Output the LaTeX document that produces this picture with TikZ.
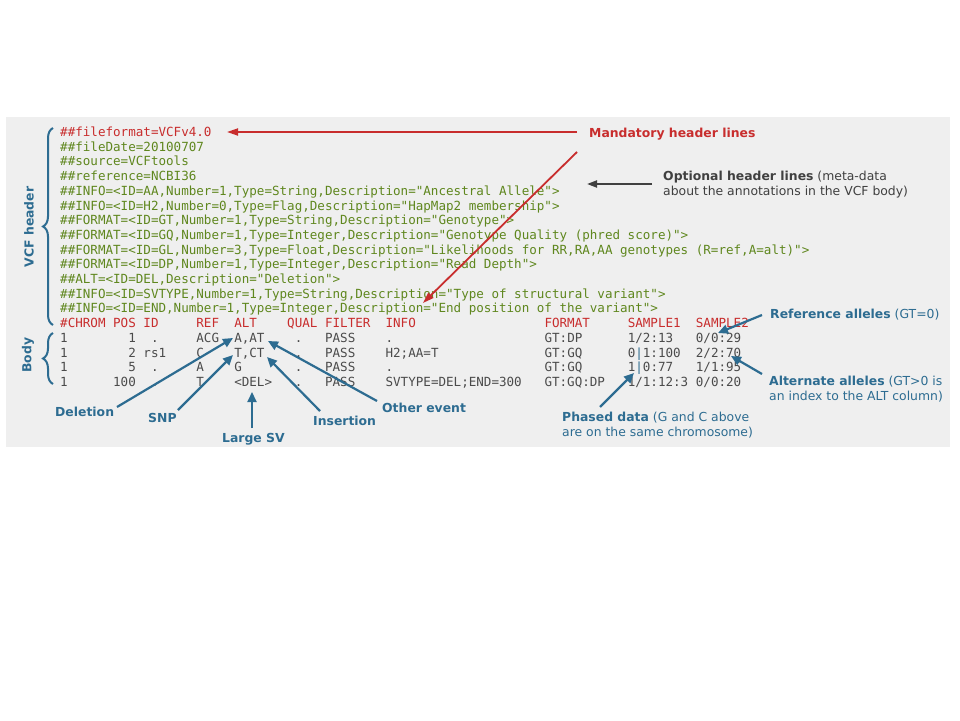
\documentclass[tikz,border=0pt]{standalone}
\usepackage{fontspec}
\setmonofont{DejaVu Sans Mono}[WordSpace={1,0,0},PunctuationSpace=WordSpace]
\newfontfamily\labfont{DejaVu Sans}
\usetikzlibrary{arrows.meta,decorations.pathreplacing}
\definecolor{vred}{RGB}{200,45,45}
\definecolor{vgreen}{RGB}{95,135,30}
\definecolor{vbody}{RGB}{75,75,75}
\definecolor{vblue}{RGB}{45,108,145}
\definecolor{vdark}{RGB}{64,64,64}
\definecolor{vbg}{RGB}{239,239,239}
\newlength\cw \setlength\cw{7.568pt}
\newcommand\sk[1]{\hspace*{#1\cw}}
\newcommand\ph{\textcolor{vblue}{|}}
\frenchspacing
\tikzset{
  code/.style={anchor=base west,inner sep=0pt,font=\ttfamily\fontsize{12.57}{14}\selectfont},
  hdr/.style={code,text=vgreen},
  man/.style={code,text=vred},
  bod/.style={code,text=vbody},
  lab/.style={anchor=base west,inner sep=0pt,font=\labfont\fontsize{12.4}{15}\selectfont},
  blab/.style={lab,text=vblue},
  rlab/.style={lab,text=vred},
  glab/.style={lab,text=vdark},
  barrow/.style={draw=vblue,line width=2.2pt,-{Triangle[length=10pt,width=9pt]}},
  rarrow/.style={draw=vred,line width=1.8pt,-{Triangle[length=11pt,width=7pt]}},
  garrow/.style={draw=vdark,line width=2pt,-{Triangle[length=10pt,width=7pt]}},
  vbrace/.style={draw=vblue,line width=2pt,decorate,decoration={brace,amplitude=10pt}},
  sidelab/.style={blab,anchor=center,rotate=90,font=\labfont\bfseries\fontsize{12.4}{15}\selectfont}
}
\begin{document}
\begin{tikzpicture}[x=1pt,y=-1pt]
\useasboundingbox (0,0) rectangle (960,720);
\fill[white] (0,0) rectangle (960,720);
\fill[vbg] (6,117) rectangle (950,447);

% header lines
\node[man] (h0) at (60,136.5) {\#\#fileformat=VCFv4.0};
\node[hdr] (h1) at (60,151.2) {\#\#fileDate=20100707};
\node[hdr] (h2) at (60,165.9) {\#\#source=VCFtools};
\node[hdr] (h3) at (60,180.6) {\#\#reference=NCBI36};
\node[hdr] (h4) at (60,195.3) {\#\#INFO=<ID=AA,Number=1,Type=String,Description="Ancestral\sk{1}Allele">};
\node[hdr] (h5) at (60,210.0) {\#\#INFO=<ID=H2,Number=0,Type=Flag,Description="HapMap2\sk{1}membership">};
\node[hdr] (h6) at (60,224.7) {\#\#FORMAT=<ID=GT,Number=1,Type=String,Description="Genotype">};
\node[hdr] (h7) at (60,239.4) {\#\#FORMAT=<ID=GQ,Number=1,Type=Integer,Description="Genotype\sk{1}Quality\sk{1}(phred\sk{1}score)">};
\node[hdr] (h8) at (60,254.1) {\#\#FORMAT=<ID=GL,Number=3,Type=Float,Description="Likelihoods\sk{1}for\sk{1}RR,RA,AA\sk{1}genotypes\sk{1}(R=ref,A=alt)">};
\node[hdr] (h9) at (60,268.8) {\#\#FORMAT=<ID=DP,Number=1,Type=Integer,Description="Read\sk{1}Depth">};
\node[hdr] (h10) at (60,283.5) {\#\#ALT=<ID=DEL,Description="Deletion">};
\node[hdr] (h11) at (60,298.2) {\#\#INFO=<ID=SVTYPE,Number=1,Type=String,Description="Type\sk{1}of\sk{1}structural\sk{1}variant">};
\node[hdr] (h12) at (60,312.9) {\#\#INFO=<ID=END,Number=1,Type=Integer,Description="End\sk{1}position\sk{1}of\sk{1}the\sk{1}variant">};
\node[man] (h13) at (60,327.6) {\#CHROM\sk{1}POS\sk{1}ID\sk{5}REF\sk{2}ALT\sk{4}QUAL\sk{1}FILTER\sk{2}INFO\sk{17}FORMAT\sk{5}SAMPLE1\sk{2}SAMPLE2};

% body lines
\node[bod] (b1) at (60,342.3) {1\sk{8}1\sk{2}.\sk{5}ACG\sk{2}A,AT\sk{4}.\sk{3}PASS\sk{4}.\sk{20}GT:DP\sk{6}1/2:13\sk{3}0/0:29};
\node[bod] (b2) at (60,357.0) {1\sk{8}2\sk{1}rs1\sk{4}C\sk{4}T,CT\sk{4}.\sk{3}PASS\sk{4}H2;AA=T\sk{14}GT:GQ\sk{6}0\ph 1:100\sk{2}2/2:70};
\node[bod] (b3) at (60,371.7) {1\sk{8}5\sk{2}.\sk{5}A\sk{4}G\sk{7}.\sk{3}PASS\sk{4}.\sk{20}GT:GQ\sk{6}1\ph 0:77\sk{3}1/1:95};
\node[bod] (b4) at (60,386.4) {1\sk{6}100\sk{2}.\sk{5}T\sk{4}<DEL>\sk{3}.\sk{3}PASS\sk{4}SVTYPE=DEL;END=300\sk{3}GT:GQ:DP\sk{3}1/1:12:3\sk{1}0/0:20};

% braces and side labels
\draw[vbrace] (53,325) -- (53,128);
\draw[vbrace] (53,384) -- (53,333);
\node[sidelab] (vcfh) at (29,227) {VCF header};
\node[sidelab] (bodyl) at (28,355) {Body};

% labels
\node[rlab] (mand) at (589,137.5) {\bfseries Mandatory header lines};
\node[glab] (optA) at (663,180.5) {\textbf{Optional header lines} (meta-data};
\node[glab] (optB) at (663,195.5) {about the annotations in the VCF body)};
\node[blab] (del) at (55,416) {\bfseries Deletion};
\node[blab] (snp) at (148,422.5) {\bfseries SNP};
\node[blab] (lsv) at (222,442.5) {\bfseries Large SV};
\node[blab] (ins) at (313,425) {\bfseries Insertion};
\node[blab] (oth) at (382,412) {\bfseries Other event};
\node[blab] (phA) at (562,421.5) {\textbf{Phased data} (G and C above};
\node[blab] (phB) at (562,436.5) {are on the same chromosome)};
\node[blab] (refl) at (770,318.5) {\textbf{Reference alleles} (GT=0)};
\node[blab] (altA) at (769,385.5) {\textbf{Alternate alleles} (GT>0 is};
\node[blab] (altB) at (769,400) {an index to the ALT column)};

% arrow end points
\coordinate (m1s) at (577,132);
\coordinate (m1t) at (227,132);
\coordinate (m2s) at (577,152);
\coordinate (m2t) at (423,303);
\coordinate (os) at (652,184);
\coordinate (ot) at (587,184);
\coordinate (dels) at (117,407);
\coordinate (delt) at (233,338);
\coordinate (snps) at (178,410);
\coordinate (snpt) at (233,355);
\coordinate (lsvs) at (252,428);
\coordinate (lsvt) at (252,392);
\coordinate (inss) at (320,411);
\coordinate (inst) at (267,357);
\coordinate (oths) at (377,401);
\coordinate (otht) at (268,341);
\coordinate (phs) at (600,407);
\coordinate (pht) at (634,373);
\coordinate (refs) at (762,315);
\coordinate (reft) at (718,333);
\coordinate (alts) at (762,374);
\coordinate (altt) at (731,356);

\draw[rarrow] (m1s) -- (m1t);
\draw[rarrow] (m2s) -- (m2t);
\draw[garrow] (os) -- (ot);
\draw[barrow] (dels) -- (delt);
\draw[barrow] (snps) -- (snpt);
\draw[barrow] (lsvs) -- (lsvt);
\draw[barrow] (inss) -- (inst);
\draw[barrow] (oths) -- (otht);
\draw[barrow] (phs) -- (pht);
\draw[barrow] (refs) -- (reft);
\draw[barrow] (alts) -- (altt);
\end{tikzpicture}
\end{document}
